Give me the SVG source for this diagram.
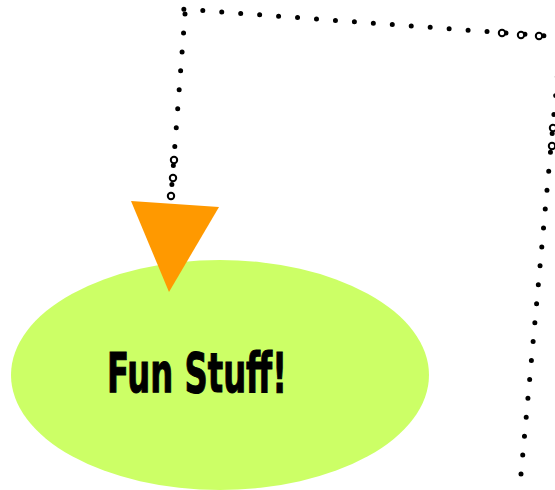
<svg xmlns="http://www.w3.org/2000/svg" width="555" height="490" viewBox="0 0 555 490">
<style>
.dots{fill:none;stroke:#000;stroke-width:5;stroke-linecap:round;stroke-dasharray:0 19}
.ring{fill:#fff;stroke:#000;stroke-width:2}
.lbl{font-family:"Liberation Sans Narrow","DejaVu Sans Condensed","Liberation Sans",sans-serif;font-weight:bold;font-size:55px;fill:#000;stroke:#000;stroke-width:1}
</style>
<rect width="555" height="490" fill="#fff"/>
<g id="connectors">
<path class="dots" d="M521 474 L561 37 L181 9"/>
<path class="dots" d="M185 14 L171 196"/>
<circle class="ring" cx="502" cy="33" r="3.2"/>
<circle class="ring" cx="521" cy="35" r="3.2"/>
<circle class="ring" cx="539" cy="36" r="3.2"/>
<circle class="ring" cx="553" cy="128" r="3.2"/>
<circle class="ring" cx="552" cy="146" r="3.2"/>
<circle class="ring" cx="174" cy="160" r="3.2"/>
<circle class="ring" cx="173" cy="178" r="3.2"/>
<circle class="ring" cx="171" cy="196" r="3.2"/>
</g>
<g id="node-fun">
<ellipse cx="220" cy="375" rx="209" ry="115" fill="#ccff66"/>
<text class="lbl" x="107" y="392" textLength="180" lengthAdjust="spacingAndGlyphs">Fun Stuff!</text>
</g>
<g id="arrowhead">
<polygon points="131,201 219,207 169,292" fill="#ff9900"/>
</g>
</svg>
